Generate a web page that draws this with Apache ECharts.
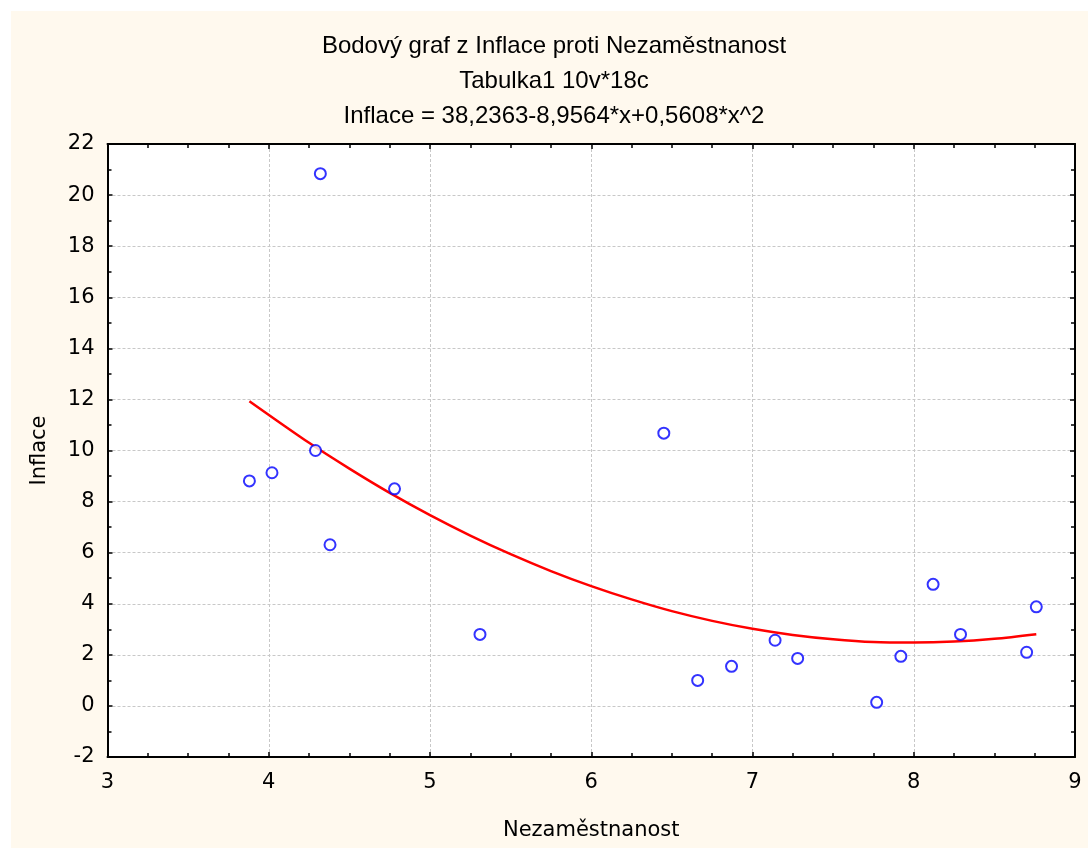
<!DOCTYPE html>
<html>
<head>
<meta charset="utf-8">
<script src="https://cdn.jsdelivr.net/npm/echarts@6/dist/echarts.min.js"></script>
<style>
  html, body { margin: 0; padding: 0; background: #fff; }
  #wrap { position: relative; width: 1088px; height: 848px; }
  #paper { position: absolute; left: 11px; top: 11px; right: 0; bottom: 0; background: #fff9ee; }
  #chart { position: absolute; left: 0; top: 0; width: 1088px; height: 848px; }
</style>
</head>
<body>
<div id="wrap">
  <div id="paper"></div>
  <div id="chart"></div>
</div>
<script>
// nezamestnanost (x) a inflace (y), 18 pripadu
const nezamestnanost = [4.32, 4.29, 4.02, 3.88, 4.78, 4.38, 5.31, 6.45, 6.66,
  6.87, 7.14, 7.28, 7.77, 7.92, 8.12, 8.29, 8.70, 8.76]
const inflace = [20.84, 10.0, 9.13, 8.81, 8.50, 6.31, 2.80, 10.68, 1.0,
  1.55, 2.57, 1.86, 0.14, 1.94, 4.76, 2.80, 2.10, 3.88]

// regresni krivka
const fitX = [3.88, 4.25, 4.5, 4.75, 5.0, 5.25, 5.5, 5.75, 6.0, 6.25, 6.5,
  6.75, 7.0, 7.25, 7.5, 7.75, 8.0, 8.25, 8.5, 8.76]
const fitY = [11.93, 10.3, 9.29, 8.34, 7.47, 6.67, 5.94, 5.28, 4.69, 4.17, 3.71,
  3.33, 3.02, 2.78, 2.61, 2.5, 2.48, 2.52, 2.63, 2.81]

const titles = [
  'Bodový graf z Inflace proti Nezaměstnanost',
  'Tabulka1 10v*18c',
  'Inflace = 38,2363-8,9564*x+0,5608*x^2'
]

const titleFont = 'Liberation Sans, Arial, sans-serif'
const axisFont = 'DejaVu Sans, sans-serif'
const black = '#000'

function axisBase(show) {
  return {
    type: 'value',
    axisLine: { show: true, onZero: false, lineStyle: { color: black, width: 2 } },
    axisTick: { show: true, inside: true, length: 5, lineStyle: { color: black, width: 1.5 } },
    minorTick: { show: true, length: 4, lineStyle: { color: black, width: 1.5 } },
    axisLabel: { show: show, color: black, fontSize: 21, fontFamily: axisFont, margin: 13 },
    splitLine: { show: show, lineStyle: { color: '#c8c8c8', type: [3, 2], width: 1 } }
  }
}

const chart = echarts.init(document.getElementById('chart'))

const xMain = Object.assign(axisBase(true), {
  min: 3, max: 9, interval: 1, position: 'bottom',
  name: 'Nezaměstnanost', nameLocation: 'middle', nameGap: 63,
  nameTextStyle: { color: black, fontSize: 21, fontFamily: axisFont }
})
xMain.minorTick.splitNumber = 4
xMain.axisLabel.margin = 15
const xTop = Object.assign(axisBase(false), { min: 3, max: 9, interval: 1, position: 'top' })
xTop.minorTick.splitNumber = 4

const yMain = Object.assign(axisBase(true), {
  min: -2, max: 22, interval: 2, position: 'left',
  name: 'Inflace', nameLocation: 'middle', nameGap: 57,
  nameTextStyle: { color: black, fontSize: 21, fontFamily: axisFont }
})
yMain.minorTick.splitNumber = 2
const yRight = Object.assign(axisBase(false), { min: -2, max: 22, interval: 2, position: 'right' })
yRight.minorTick.splitNumber = 2

chart.setOption({
  animation: false,
  backgroundColor: 'transparent',
  title: titles.map((t, i) => ({
    text: t,
    left: 549,
    textAlign: 'center',
    top: 29 + i * 35,
    textStyle: { color: black, fontSize: 24, fontWeight: 'normal', fontFamily: titleFont }
  })),
  grid: {
    left: 107.5, top: 144, right: 13, bottom: 91,
    show: true, backgroundColor: '#fff', borderWidth: 0
  },
  xAxis: [xMain, xTop],
  yAxis: [yMain, yRight],
  series: [
    {
      type: 'line',
      data: fitX.map((x, i) => [x, fitY[i]]),
      smooth: 0.3,
      showSymbol: false,
      lineStyle: { color: '#ff0000', width: 2.5 },
      z: 2
    },
    {
      type: 'scatter',
      data: nezamestnanost.map((x, i) => [x, inflace[i]]),
      symbol: 'emptyCircle',
      symbolSize: 11,
      itemStyle: { color: '#0000ff', borderWidth: 1.3 },
      z: 3
    }
  ]
})
</script>
</body>
</html>
